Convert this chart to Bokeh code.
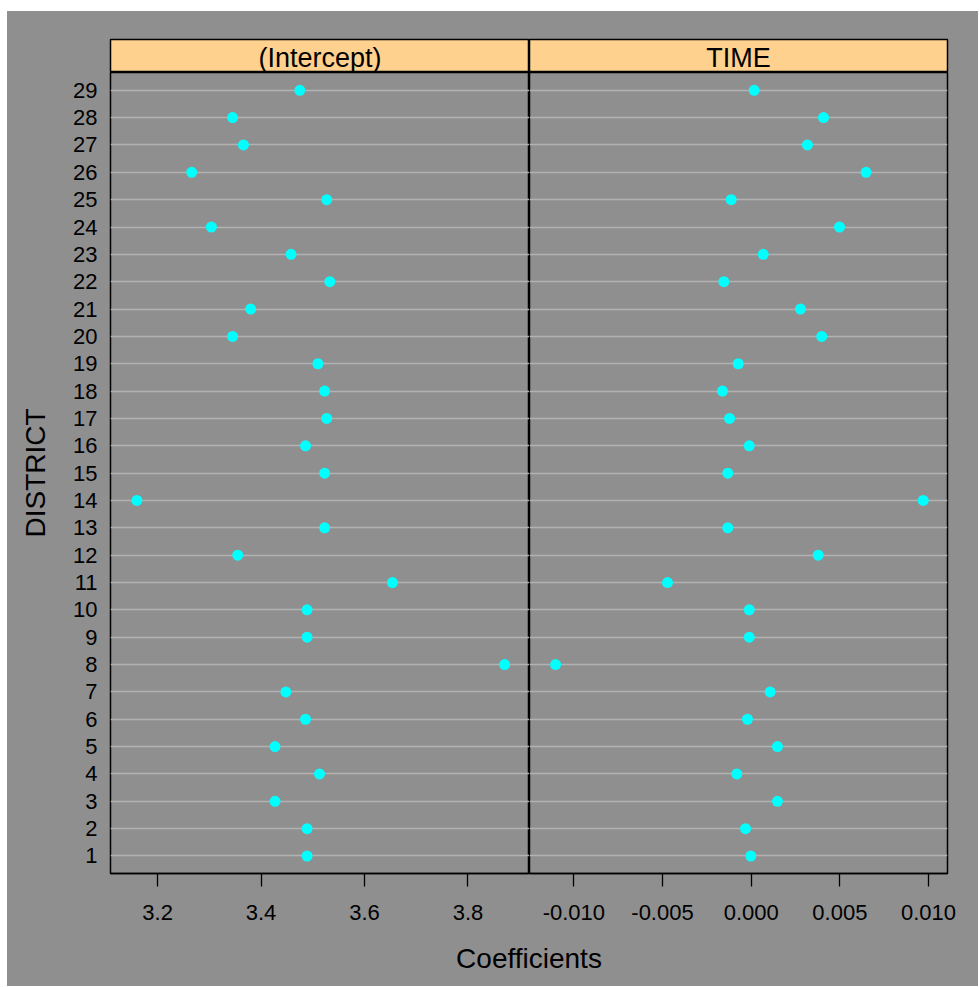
from bokeh.plotting import figure
from bokeh.layouts import column, row, Spacer
from bokeh.models import Range1d, FixedTicker, NumeralTickFormatter, ColumnDataSource
from bokeh.core.properties import value
from bokeh.embed import file_html
from bokeh.resources import INLINE

# ---- data ----
district = [1, 2, 3, 4, 5, 6, 7, 8, 9, 10, 11, 12, 13, 14, 15,
            16, 17, 18, 19, 20, 21, 22, 23, 24, 25, 26, 27, 28, 29]
intercept = [3.489, 3.489, 3.427, 3.513, 3.427, 3.486, 3.448, 3.871, 3.489, 3.489,
             3.654, 3.355, 3.523, 3.160, 3.523, 3.486, 3.527, 3.523, 3.510, 3.345,
             3.380, 3.533, 3.458, 3.304, 3.527, 3.266, 3.366, 3.345, 3.475]
time_coef = [-0.00002, -0.00032, 0.00148, -0.00081, 0.00148, -0.00021, 0.00107, -0.01103, -0.00011, -0.00011,
             -0.00472, 0.00378, -0.00132, 0.00970, -0.00132, -0.00011, -0.00122, -0.00162, -0.00073, 0.00398,
             0.00278, -0.00154, 0.00068, 0.00498, -0.00113, 0.00648, 0.00317, 0.00408, 0.00017]
panel_names = ["(Intercept)", "TIME"]
left_ticks = [3.2, 3.4, 3.6, 3.8]
right_ticks = [-0.010, -0.005, 0.000, 0.005, 0.010]
x_label = "Coefficients"
y_label = "DISTRICT"

# ---- style ----
BG = "#8f8f8f"
GRID = "#b2b2b2"
STRIP = "#ffd18f"
PT = "#00ffff"
FONT = "Liberation Sans"

W_TOTAL = 971
LEFT_B = 103
W_L_FRAME = 419
W_R_FRAME = 418
RIGHT_B = W_TOTAL - LEFT_B - W_L_FRAME - W_R_FRAME
STRIP_TOP = 28
STRIP_H = 33
PANEL_H = 801
PANEL_BOTTOM = 70
LABEL_H = 43

y_rng = (0.36, 29.65)
xl_rng = (3.109, 3.919)
xr_rng = (-0.0125, 0.01107)


def base(width, height, xr, yr, bl, br, bt, bb):
    p = figure(width=width, height=height, x_range=Range1d(*xr), y_range=Range1d(*yr),
               output_backend="svg", toolbar_location=None,
               min_border_left=bl, min_border_right=br, min_border_top=bt, min_border_bottom=bb,
               x_axis_type=None, y_axis_type=None)
    p.border_fill_color = BG
    p.background_fill_color = BG
    p.outline_line_color = "black"
    p.outline_line_width = 1.5
    p.grid.visible = False
    return p


def strip(name, width, bl, br):
    p = base(width, STRIP_TOP + STRIP_H, (0, 1), (0, 1), bl, br, STRIP_TOP, 0)
    p.background_fill_color = STRIP
    p.text(x=[0.5], y=[0.45], text=[name], text_align="center", text_baseline="middle",
           text_font=value(FONT), text_font_size="27px", text_color="black")
    return p


def panel(width, xr, bl, br, xvals, ticks, fmt, show_y):
    p = figure(width=width, height=PANEL_H + PANEL_BOTTOM, x_range=Range1d(*xr),
               y_range=Range1d(*y_rng), output_backend="svg", toolbar_location=None,
               min_border_left=bl, min_border_right=br, min_border_top=0,
               min_border_bottom=PANEL_BOTTOM)
    p.border_fill_color = BG
    p.background_fill_color = BG
    p.outline_line_color = "black"
    p.outline_line_width = 1.5
    p.xgrid.visible = False
    p.ygrid.ticker = FixedTicker(ticks=district)
    p.ygrid.grid_line_color = GRID
    p.ygrid.grid_line_width = 1.4

    xa = p.xaxis[0]
    xa.ticker = FixedTicker(ticks=ticks)
    xa.formatter = NumeralTickFormatter(format=fmt)
    xa.major_tick_in = 0
    xa.major_tick_out = 13
    xa.major_tick_line_color = "black"
    xa.major_tick_line_width = 1.3
    xa.minor_tick_line_color = None
    xa.axis_line_color = "black"
    xa.axis_line_width = 1.5
    xa.major_label_standoff = 18
    xa.major_label_text_font = FONT
    xa.major_label_text_font_size = "22px"
    xa.major_label_text_color = "black"

    ya = p.yaxis[0]
    if show_y:
        ya.ticker = FixedTicker(ticks=district)
        ya.major_tick_in = 0
        ya.major_tick_out = 0
        ya.minor_tick_line_color = None
        ya.axis_line_color = None
        ya.major_label_standoff = 13
        ya.major_label_text_font = FONT
        ya.major_label_text_font_size = "22px"
        ya.major_label_text_color = "black"
        ya.axis_label = y_label
        ya.axis_label_text_font = FONT
        ya.axis_label_text_font_size = "28px"
        ya.axis_label_text_font_style = "normal"
        ya.axis_label_text_color = "black"
        ya.axis_label_standoff = 19
    else:
        ya.visible = False

    src = ColumnDataSource(dict(x=xvals, y=district))
    p.scatter("x", "y", source=src, size=11, fill_color=PT, line_color=None)
    return p


sL = strip(panel_names[0], LEFT_B + W_L_FRAME, LEFT_B, 0)
sR = strip(panel_names[1], W_R_FRAME + RIGHT_B, 0, RIGHT_B)
pL = panel(LEFT_B + W_L_FRAME, xl_rng, LEFT_B, 0, intercept, left_ticks, "0.0", True)
pR = panel(W_R_FRAME + RIGHT_B, xr_rng, 0, RIGHT_B, time_coef, right_ticks, "0.000", False)

lab = base(W_TOTAL, LABEL_H, (0, W_TOTAL), (0, 1), 0, 0, 0, 0)
lab.outline_line_color = None
lab.text(x=[LEFT_B + (W_L_FRAME + W_R_FRAME) / 2], y=[0.64], text=[x_label],
         text_align="center", text_baseline="middle",
         text_font=value(FONT), text_font_size="28px", text_color="black")

inner = column(row(sL, sR, spacing=0, styles={"background-color": BG}),
               row(pL, pR, spacing=0, styles={"background-color": BG}),
               lab, spacing=0, styles={"background-color": BG})
layout = column(Spacer(height=11, width=W_TOTAL + 7),
                row(Spacer(width=7, height=10), inner, spacing=0), spacing=0)

open("out.html", "w").write(file_html(layout, INLINE))
